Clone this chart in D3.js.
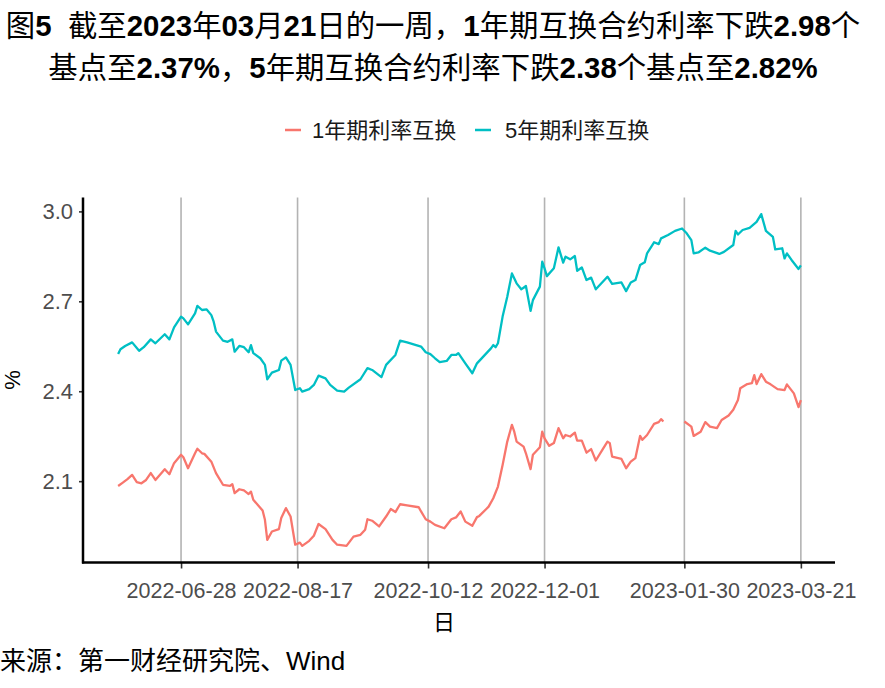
<!DOCTYPE html>
<html><head><meta charset="utf-8">
<script src="https://cdn.jsdelivr.net/npm/d3@7"></script>
<style>body{margin:0;background:#fff}svg{display:block}</style>
</head><body><svg id="chart" width="885" height="688"></svg>
<script>
const titleLines = ["图5  截至2023年03月21日的一周，1年期互换合约利率下跌2.98个",
                    "基点至2.37%，5年期互换合约利率下跌2.38个基点至2.82%"];
const seriesNames = ["1年期利率互换", "5年期利率互换"];
const xTickLabels = ["2022-06-28","2022-08-17","2022-10-12","2022-12-01","2023-01-30","2023-03-21"];
const yTickLabels = ["2.1","2.4","2.7","3.0"];
const yAxisTitle = "%";
const xAxisTitle = "日";
const sourceText = "来源：第一财经研究院、Wind";

const dates1Y = ["2022-06-01","2022-06-03","2022-06-05","2022-06-07","2022-06-09","2022-06-11","2022-06-13","2022-06-15","2022-06-17","2022-06-21","2022-06-23","2022-06-25","2022-06-28","2022-06-29","2022-07-01","2022-07-04","2022-07-05","2022-07-07","2022-07-08","2022-07-11","2022-07-13","2022-07-16","2022-07-19","2022-07-20","2022-07-21","2022-07-23","2022-07-25","2022-07-27","2022-07-28","2022-07-29","2022-08-02","2022-08-03","2022-08-04","2022-08-06","2022-08-09","2022-08-10","2022-08-12","2022-08-14","2022-08-16","2022-08-18","2022-08-19","2022-08-22","2022-08-24","2022-08-26","2022-08-29","2022-09-01","2022-09-03","2022-09-07","2022-09-10","2022-09-13","2022-09-15","2022-09-16","2022-09-18","2022-09-21","2022-09-24","2022-09-26","2022-09-28","2022-09-30","2022-10-03","2022-10-08","2022-10-09","2022-10-11","2022-10-13","2022-10-15","2022-10-19","2022-10-22","2022-10-24","2022-10-26","2022-10-28","2022-10-31","2022-11-02","2022-11-03","2022-11-06","2022-11-07","2022-11-09","2022-11-11","2022-11-13","2022-11-15","2022-11-17","2022-11-18","2022-11-19","2022-11-22","2022-11-23","2022-11-25","2022-11-26","2022-11-29","2022-11-30","2022-12-01","2022-12-03","2022-12-05","2022-12-07","2022-12-09","2022-12-10","2022-12-12","2022-12-14","2022-12-15","2022-12-17","2022-12-19","2022-12-21","2022-12-23","2022-12-26","2022-12-28","2022-12-29","2022-12-30","2023-01-03","2023-01-05","2023-01-07","2023-01-09","2023-01-11","2023-01-12","2023-01-14","2023-01-17","2023-01-19","2023-01-20","2023-01-21","2023-01-25","2023-01-30","2023-02-02","2023-02-03","2023-02-06","2023-02-08","2023-02-10","2023-02-13","2023-02-15","2023-02-18","2023-02-20","2023-02-22","2023-02-23","2023-02-26","2023-02-28","2023-03-01","2023-03-02","2023-03-04","2023-03-06","2023-03-08","2023-03-11","2023-03-14","2023-03-15","2023-03-18","2023-03-20","2023-03-21"];
const values1Y = [2.084,2.095,2.107,2.121,2.097,2.093,2.104,2.127,2.104,2.14,2.123,2.16,2.188,2.18,2.143,2.193,2.208,2.193,2.191,2.165,2.127,2.088,2.084,2.09,2.06,2.073,2.069,2.057,2.065,2.038,2.002,1.971,1.904,1.932,1.94,1.977,2.01,1.982,1.888,1.895,1.884,1.901,1.918,1.957,1.94,1.904,1.888,1.884,1.915,1.921,1.938,1.973,1.968,1.949,1.982,2.007,1.997,2.023,2.019,2.013,1.999,1.973,1.965,1.954,1.943,1.973,1.979,1.999,1.965,1.951,1.98,1.984,2.007,2.015,2.043,2.082,2.154,2.232,2.288,2.265,2.232,2.215,2.193,2.14,2.188,2.213,2.265,2.243,2.218,2.227,2.277,2.243,2.254,2.249,2.262,2.235,2.235,2.195,2.207,2.169,2.207,2.232,2.227,2.182,2.174,2.143,2.165,2.177,2.251,2.238,2.254,2.291,2.297,2.307,2.299,null,2.299,2.282,2.251,2.265,2.297,2.282,2.277,2.304,2.319,2.338,2.371,2.41,2.424,2.427,2.454,2.424,2.457,2.432,2.423,2.407,2.404,2.423,2.393,2.347,2.37];

const dates5Y = ["2022-06-01","2022-06-02","2022-06-04","2022-06-07","2022-06-10","2022-06-12","2022-06-15","2022-06-17","2022-06-21","2022-06-23","2022-06-25","2022-06-28","2022-06-29","2022-07-01","2022-07-04","2022-07-05","2022-07-07","2022-07-09","2022-07-11","2022-07-12","2022-07-13","2022-07-16","2022-07-18","2022-07-20","2022-07-21","2022-07-23","2022-07-25","2022-07-27","2022-07-28","2022-07-29","2022-08-01","2022-08-03","2022-08-04","2022-08-06","2022-08-09","2022-08-10","2022-08-12","2022-08-14","2022-08-16","2022-08-18","2022-08-19","2022-08-22","2022-08-24","2022-08-26","2022-08-29","2022-08-31","2022-09-03","2022-09-06","2022-09-08","2022-09-13","2022-09-16","2022-09-18","2022-09-22","2022-09-24","2022-09-28","2022-09-30","2022-10-03","2022-10-09","2022-10-11","2022-10-13","2022-10-15","2022-10-17","2022-10-20","2022-10-22","2022-10-24","2022-10-25","2022-10-28","2022-10-31","2022-11-02","2022-11-05","2022-11-08","2022-11-09","2022-11-10","2022-11-11","2022-11-13","2022-11-15","2022-11-17","2022-11-19","2022-11-21","2022-11-23","2022-11-25","2022-11-26","2022-11-29","2022-11-30","2022-12-01","2022-12-02","2022-12-05","2022-12-07","2022-12-09","2022-12-10","2022-12-12","2022-12-14","2022-12-15","2022-12-17","2022-12-19","2022-12-21","2022-12-23","2022-12-26","2022-12-28","2022-12-30","2023-01-03","2023-01-05","2023-01-07","2023-01-09","2023-01-11","2023-01-13","2023-01-14","2023-01-17","2023-01-19","2023-01-20","2023-01-23","2023-01-26","2023-01-29","2023-01-31","2023-02-02","2023-02-03","2023-02-05","2023-02-08","2023-02-10","2023-02-14","2023-02-16","2023-02-20","2023-02-21","2023-02-22","2023-02-24","2023-02-27","2023-03-02","2023-03-04","2023-03-06","2023-03-09","2023-03-10","2023-03-13","2023-03-14","2023-03-15","2023-03-17","2023-03-20","2023-03-21"];
const values5Y = [2.524,2.54,2.551,2.563,2.535,2.547,2.573,2.56,2.59,2.573,2.613,2.649,2.643,2.623,2.66,2.685,2.671,2.673,2.654,2.632,2.599,2.569,2.565,2.573,2.532,2.551,2.547,2.53,2.554,2.527,2.51,2.488,2.44,2.462,2.471,2.502,2.513,2.488,2.404,2.41,2.399,2.407,2.421,2.452,2.443,2.421,2.402,2.399,2.412,2.44,2.477,2.471,2.447,2.488,2.521,2.569,2.563,2.549,2.53,2.524,2.51,2.497,2.501,2.521,2.521,2.527,2.493,2.46,2.493,2.518,2.543,2.554,2.547,2.56,2.649,2.715,2.793,2.76,2.74,2.751,2.668,2.704,2.749,2.832,2.81,2.784,2.81,2.88,2.829,2.849,2.84,2.851,2.802,2.813,2.771,2.779,2.74,2.765,2.782,2.758,2.763,2.734,2.763,2.771,2.821,2.83,2.86,2.897,2.891,2.91,2.921,2.935,2.943,2.927,2.904,2.86,2.863,2.879,2.869,2.858,2.865,2.888,2.935,2.923,2.938,2.945,2.965,2.991,2.935,2.915,2.873,2.877,2.843,2.86,2.838,2.808,2.82];

const colors = ["#F8766D", "#00BFC4"];
const parse = d3.timeParse("%Y-%m-%d");
const series = [
  dates1Y.map((d, i) => ({date: parse(d), v: values1Y[i]})),
  dates5Y.map((d, i) => ({date: parse(d), v: values5Y[i]}))
];

const svg = d3.select("#chart");
const latin = "'Liberation Sans', Arial, 'Noto Sans CJK SC', sans-serif";

// panel
const pLeft = 84, pRight = 835, pTop = 197.5, pBottom = 562.5;
const allPts = series.flat().filter(d => d.v != null);
const xExt = d3.extent(allPts, d => d.date);
const span = xExt[1] - xExt[0];
const x = d3.scaleTime()
  .domain([new Date(+xExt[0] - span * 0.05), new Date(+xExt[1] + span * 0.05)])
  .range([pLeft, pRight]);
const yExt = d3.extent(allPts, d => d.v);
const ySpan = yExt[1] - yExt[0];
const y = d3.scaleLinear()
  .domain([yExt[0] - ySpan * 0.05, yExt[1] + ySpan * 0.05])
  .range([pBottom, pTop]);

// title with bold numerals
function richText(sel, str) {
  str.split(/([0-9.%]+)/).forEach(part => {
    if (!part) return;
    sel.append("tspan")
      .attr("font-weight", /^[0-9.%]+$/.test(part) ? "bold" : "normal")
      .text(part);
  });
}
const titleG = svg.append("g").attr("font-family", latin).attr("font-size", 29.4).attr("fill", "#000");
titleLines.forEach((t, i) => {
  const tx = titleG.append("text").attr("x", 433).attr("y", 36 + i * 42).attr("text-anchor", "middle").attr("xml:space", "preserve");
  richText(tx, t);
});

// legend
const legendItems = [{x: 285, tx: 312}, {x: 475, tx: 505}];
const lg = svg.append("g");
seriesNames.forEach((name, i) => {
  lg.append("line").attr("x1", legendItems[i].x).attr("x2", legendItems[i].x + 16)
    .attr("y1", 130).attr("y2", 130).attr("stroke", colors[i]).attr("stroke-width", 2.5);
  lg.append("text").attr("x", legendItems[i].tx).attr("y", 138)
    .attr("font-family", latin).attr("font-size", 22).attr("fill", "#1a1a1a").text(name);
});

// grid (vertical only)
const xTicks = xTickLabels.map(parse);
svg.append("g").selectAll("line").data(xTicks).join("line")
  .attr("x1", d => x(d)).attr("x2", d => x(d)).attr("y1", pTop).attr("y2", pBottom)
  .attr("stroke", "#b3b3b3").attr("stroke-width", 1.6);

// lines
const line = d3.line().defined(d => d.v != null).x(d => x(d.date)).y(d => y(d.v));
series.forEach((s, i) => {
  svg.append("path").datum(s).attr("d", line).attr("fill", "none")
    .attr("stroke", colors[i]).attr("stroke-width", 2.3).attr("stroke-linejoin", "round");
});

// axes
const yAxis = d3.axisLeft(y).tickValues(yTickLabels.map(Number)).tickFormat(d3.format(".1f")).tickSize(5).tickPadding(6);
const gy = svg.append("g").attr("transform", `translate(${pLeft},0)`).call(yAxis);
gy.select(".domain").remove();
gy.selectAll(".tick line").attr("stroke", "#333").attr("stroke-width", 1.6);
gy.selectAll(".tick text").attr("font-family", latin).attr("font-size", 22).attr("fill", "#4d4d4d");

const xAxis = d3.axisBottom(x).tickValues(xTicks).tickFormat(d3.timeFormat("%Y-%m-%d")).tickSize(6).tickPadding(14);
const gx = svg.append("g").attr("transform", `translate(0,${pBottom})`).call(xAxis);
gx.select(".domain").remove();
gx.selectAll(".tick line").attr("stroke", "#333").attr("stroke-width", 1.6);
gx.selectAll(".tick text").attr("font-family", latin).attr("font-size", 21.5).attr("fill", "#4d4d4d");

svg.append("line").attr("x1", pLeft - 1).attr("x2", pLeft - 1).attr("y1", pTop).attr("y2", pBottom + 1)
  .attr("stroke", "#000").attr("stroke-width", 2.5);
svg.append("line").attr("x1", pLeft - 2).attr("x2", pRight).attr("y1", pBottom).attr("y2", pBottom)
  .attr("stroke", "#000").attr("stroke-width", 2.5);

// axis titles
svg.append("text").attr("transform", "translate(20,380) rotate(-90)").attr("text-anchor", "middle")
  .attr("font-family", latin).attr("font-size", 22).attr("fill", "#000").text(yAxisTitle);
svg.append("text").attr("x", 444).attr("y", 630).attr("text-anchor", "middle")
  .attr("font-family", latin).attr("font-size", 22).attr("fill", "#000").text(xAxisTitle);

// source
svg.append("text").attr("x", 0).attr("y", 670).attr("font-family", latin).attr("font-size", 26)
  .attr("fill", "#000").text(sourceText);
</script></body></html>
